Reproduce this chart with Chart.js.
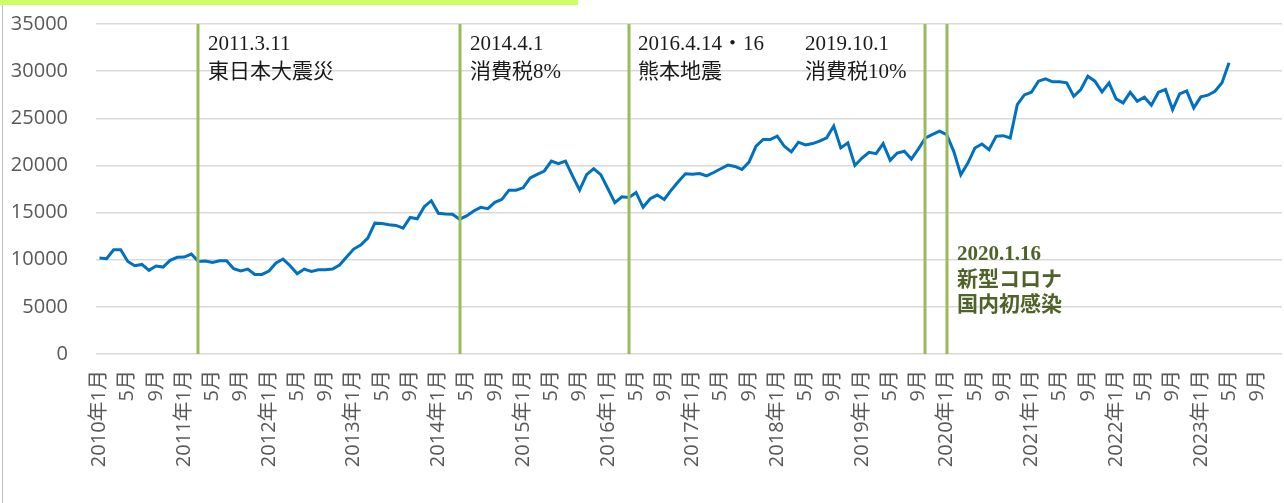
<!DOCTYPE html>
<html><head><meta charset="utf-8">
<script src="https://cdn.jsdelivr.net/npm/chart.js@4/dist/chart.umd.min.js"></script>
<style>html,body{margin:0;padding:0;background:#fff;overflow:hidden}
#wrap{position:relative;width:1284px;height:503px}</style>
</head><body><div id="wrap"><canvas id="c" width="1284" height="503"></canvas></div>
<script>
// Monthly categories 2010年1月 .. 2023年12月
const years = [2010,2011,2012,2013,2014,2015,2016,2017,2018,2019,2020,2021,2022,2023];
const months = [1,2,3,4,5,6,7,8,9,10,11,12];
const categories = [];
years.forEach(y => months.forEach(m => categories.push(y + '年' + m + '月')));

// Series values, 2010年1月 .. 2023年5月
const values = [
  10180,10110,11060,11060,9820,9360,9500,8870,9330,9220,9930,10250,
  10280,10600,9820,9860,9720,9890,9890,9050,8800,9010,8440,8440,
  8800,9650,10070,9360,8520,9010,8760,8940,8940,9010,9430,10280,
  11130,11560,12300,13880,13850,13705,13635,13355,14475,14335,15630,16260,
  14930,14860,14825,14300,14650,15175,15560,15420,16085,16400,17380,17380,
  17625,18675,19060,19410,20460,20180,20460,18885,17380,19025,19655,19025,
  17555,16050,16680,16610,17135,15560,16470,16855,16395,17400,18290,19110,
  19070,19145,18895,19250,19645,20035,19890,19570,20355,22035,22750,22750,
  23105,22035,21430,22465,22180,22320,22570,22930,24175,21855,22390,20000,
  20785,21390,21250,22320,20535,21320,21500,20680,21750,22930,23285,23640,
  23262,21490,19007,20250,21845,22270,21667,23085,23155,22908,26454,27482,
  27766,28936,29184,28865,28865,28760,27340,28050,29468,28936,27800,28760,
  27057,26631,27766,26808,27234,26383,27766,28050,25922,27589,27908,26100,
  27270,27447,27872,28760,30886
];

const yTicks = [0,5000,10000,15000,20000,25000,30000,35000];
const tickEvery = 4; // a label every 4 months

// Event markers
const eventMonths = ['2011年3月','2014年4月','2016年4月','2019年10月','2020年1月'];
const eventDates  = ['2011.3.11','2014.4.1','2016.4.14・16','2019.10.1','2020.1.16'];
const eventNotes  = [['東日本大震災'],['消費税8%'],['熊本地震'],['消費税10%'],['新型コロナ','国内初感染']];

const SANS = "'Open Sans','Noto Sans CJK JP',sans-serif";
const SERIF = "'Liberation Serif','Noto Sans CJK JP',serif";

const decor = {
  id: 'decor',
  beforeDraw(chart) {
    const ctx = chart.ctx;
    ctx.save();
    ctx.fillStyle = '#ffffff';
    ctx.fillRect(0, 0, chart.width, chart.height);
    ctx.fillStyle = '#ccff66';
    ctx.fillRect(0, 0, 578, 5);
    ctx.strokeStyle = '#bfbfbf';
    ctx.lineWidth = 1;
    ctx.beginPath();
    ctx.moveTo(2.5, 5);
    ctx.lineTo(2.5, chart.height);
    ctx.stroke();
    ctx.restore();
  },
  afterDatasetsDraw(chart) {
    const ctx = chart.ctx;
    const xs = chart.scales.x;
    const area = chart.chartArea;
    const textOffsets = [10, 10, 9, -120, 10];
    ctx.save();
    eventMonths.forEach((mo, i) => {
      const px = Math.round(xs.getPixelForValue(categories.indexOf(mo)));
      ctx.strokeStyle = '#9bbb59';
      ctx.lineWidth = 3;
      ctx.beginPath();
      ctx.moveTo(px, area.top);
      ctx.lineTo(px, area.bottom);
      ctx.stroke();
      const tx = px + textOffsets[i];
      ctx.textAlign = 'left';
      ctx.textBaseline = 'middle';
      if (i === 4) {
        ctx.fillStyle = '#4f6228';
        ctx.font = 'bold 21px ' + SERIF;
        ctx.fillText(eventDates[i], tx, 255);
        eventNotes[i].forEach((t, k) => ctx.fillText(t, tx, 281 + k * 25));
      } else {
        ctx.fillStyle = '#1a1a1a';
        ctx.font = '21px ' + SERIF;
        ctx.fillText(eventDates[i], tx, 44);
        eventNotes[i].forEach((t, k) => ctx.fillText(t, tx, 72 + k * 28));
      }
    });
    ctx.restore();
  }
};

new Chart(document.getElementById('c'), {
  type: 'line',
  data: {
    labels: categories,
    datasets: [{
      data: values,
      borderColor: '#0070c0',
      borderWidth: 3,
      pointRadius: 0,
      tension: 0,
      fill: false
    }]
  },
  options: {
    responsive: false,
    animation: false,
    devicePixelRatio: 1,
    layout: { padding: { top: 24, right: 2, left: 0, bottom: 0 } },
    plugins: { legend: { display: false }, tooltip: { enabled: false } },
    scales: {
      x: {
        type: 'category',
        offset: true,
        grid: { display: false, drawTicks: false, tickLength: 0 },
        border: { display: false },
        ticks: {
          autoSkip: false,
          maxRotation: 90,
          minRotation: 90,
          padding: 16,
          color: '#595959',
          font: { family: SANS, size: 20 },
          callback(v, i) {
            if (i % tickEvery !== 0) return null;
            const lab = categories[i];
            const m = lab.split('年')[1];
            return m === '1月' ? lab : m;
          }
        },
        afterFit(s) { s.height = 149; s.paddingLeft = 0; s.paddingRight = 0; }
      },
      y: {
        min: 0,
        max: 35000,
        afterBuildTicks(s) { s.ticks = yTicks.map(v => ({ value: v })); },
        grid: { color: '#d9d9d9', lineWidth: 1.5, drawTicks: false, tickLength: 0 },
        border: { display: false },
        ticks: {
          padding: 28,
          color: '#595959',
          font: { family: SANS, size: 20 },
          callback(v) { return String(v); }
        },
        afterFit(s) { s.width = 96; s.paddingTop = 0; s.paddingBottom = 0; }
      }
    }
  },
  plugins: [decor]
});
</script>
</body></html>
